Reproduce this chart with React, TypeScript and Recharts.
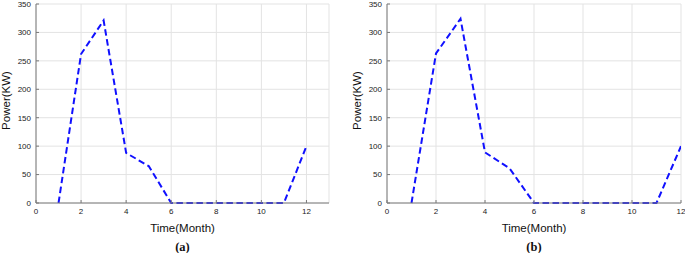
import React from 'react';
import { LineChart, Line, XAxis, YAxis, CartesianGrid } from 'recharts';

const months = [1, 2, 3, 4, 5, 6, 7, 8, 9, 10, 11, 12];
const powerA = [0, 262, 321, 88, 65, 0, 0, 0, 0, 0, 0, 100];
const powerB = [0, 263, 324, 89, 61, 0, 0, 0, 0, 0, 0, 100];
const xTicks = [0, 2, 4, 6, 8, 10, 12];
const yTicks = [0, 50, 100, 150, 200, 250, 300, 350];

const dataA = months.map((m, i) => ({ month: m, power: powerA[i] }));
const dataB = months.map((m, i) => ({ month: m, power: powerB[i] }));

const AXIS = '#7a7a7a';
const GRID = '#e3e3e3';
const SANS = '"Liberation Sans", Arial, sans-serif';

function Panel({ data, xMax, width, marginRight, tag }: { data: any[]; xMax: number; width: number; marginRight: number; tag: string }) {
  const xLabel = (props: any) => {
    const vb = props.viewBox;
    const cx = vb.x + vb.width / 2;
    return (
      <g>
        <text x={cx} y={vb.y + 29} textAnchor="middle" fontFamily={SANS} fontSize={11.5} fill="#111">Time(Month)</text>
        <text x={cx} y={vb.y + 48} textAnchor="middle" fontFamily='"Liberation Serif", "Times New Roman", serif' fontWeight="bold" fontSize={12.5} fill="#111">{tag}</text>
      </g>
    );
  };
  const yLabel = (props: any) => {
    const vb = props.viewBox;
    const cy = vb.y + vb.height / 2 - 3;
    const cx = vb.x + 10;
    return (
      <text x={cx} y={cy} transform={`rotate(-90 ${cx} ${cy})`} textAnchor="middle" fontFamily={SANS} fontSize={11.5} fill="#111">Power(KW)</text>
    );
  };
  return (
    <LineChart width={width} height={253} data={data} margin={{ top: 4, right: marginRight, bottom: 20, left: 0 }}>
      <CartesianGrid stroke={GRID} strokeWidth={1} />
      <XAxis
        dataKey="month"
        type="number"
        domain={[0, xMax]}
        ticks={xTicks}
        allowDataOverflow
        height={30}
        stroke={AXIS}
        tickSize={-3}
        tickMargin={8}
        tick={{ fontSize: 8, fill: '#222', fontFamily: SANS }}
        label={{ content: xLabel }}
      />
      <XAxis
        xAxisId="top"
        orientation="top"
        type="number"
        domain={[0, xMax]}
        ticks={xTicks}
        height={0}
        stroke={AXIS}
        tickSize={-3}
        tick={false}
      />
      <YAxis
        type="number"
        domain={[0, 350]}
        ticks={yTicks}
        width={36}
        stroke={AXIS}
        tickSize={-3}
        tickMargin={8}
        tick={{ fontSize: 8, fill: '#222', fontFamily: SANS }}
        label={{ content: yLabel }}
      />
      <YAxis
        yAxisId="right"
        orientation="right"
        type="number"
        domain={[0, 350]}
        ticks={yTicks}
        width={0}
        stroke={AXIS}
        tickSize={-3}
        tick={false}
      />
      <Line
        type="linear"
        dataKey="power"
        stroke="#1010ff"
        strokeWidth={2}
        strokeDasharray="6.5 3.5"
        dot={false}
        isAnimationActive={false}
      />
    </LineChart>
  );
}

export default function App() {
  return (
    <div style={{ position: 'absolute', left: 0, top: 0, width: 685, height: 253, background: '#fff', overflow: 'hidden' }}>
      <div style={{ position: 'absolute', left: 0, top: 0 }}>
        <Panel data={dataA} xMax={13} width={340} marginRight={11} tag="(a)" />
      </div>
      <div style={{ position: 'absolute', left: 351, top: 0 }}>
        <Panel data={dataB} xMax={12} width={334} marginRight={4} tag="(b)" />
      </div>
    </div>
  );
}
